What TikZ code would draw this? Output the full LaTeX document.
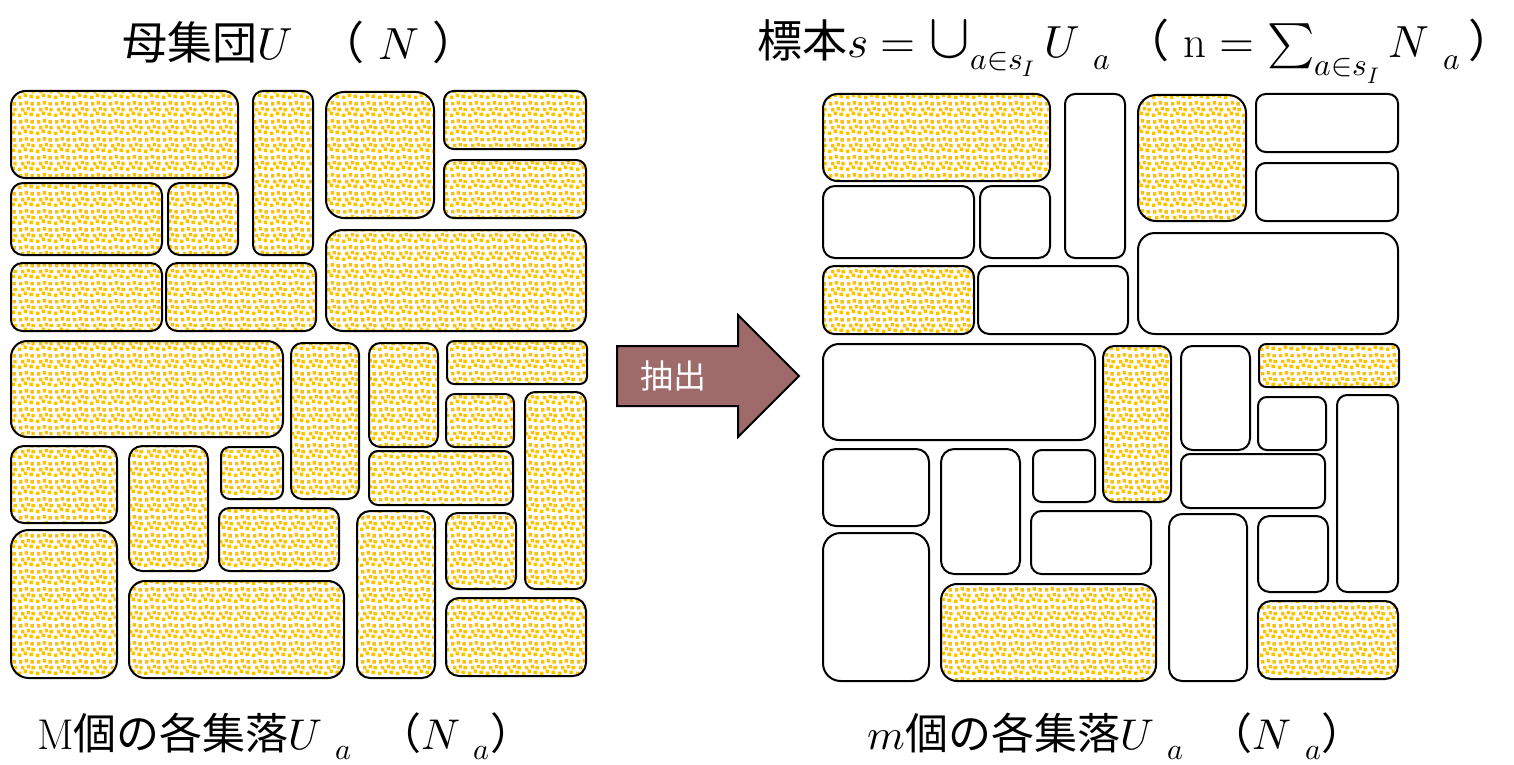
\documentclass[tikz,border=0pt]{standalone}
\usepackage{fontspec}
\usepackage{unicode-math}
\setmathfont{Latin Modern Math}
\newfontfamily\jp{Noto Sans CJK JP}
\usetikzlibrary{patterns}
\definecolor{gold}{HTML}{FFC000}
\definecolor{arrowfill}{HTML}{9E6A6A}
\pgfdeclarepatternformonly{confetti}{\pgfpointorigin}{\pgfqpoint{9pt}{9pt}}{\pgfqpoint{9pt}{9pt}}{%
  \pgfpathrectangle{\pgfqpoint{0pt}{0pt}}{\pgfqpoint{1.8pt}{1.8pt}}%
  \pgfpathrectangle{\pgfqpoint{3pt}{1pt}}{\pgfqpoint{1.8pt}{1.8pt}}%
  \pgfpathrectangle{\pgfqpoint{6pt}{0.5pt}}{\pgfqpoint{1.8pt}{1.8pt}}%
  \pgfpathrectangle{\pgfqpoint{1.5pt}{3pt}}{\pgfqpoint{1.8pt}{1.8pt}}%
  \pgfpathrectangle{\pgfqpoint{4.5pt}{3.5pt}}{\pgfqpoint{1.8pt}{1.8pt}}%
  \pgfpathrectangle{\pgfqpoint{7pt}{3pt}}{\pgfqpoint{1.8pt}{1.8pt}}%
  \pgfpathrectangle{\pgfqpoint{0.5pt}{6pt}}{\pgfqpoint{1.8pt}{1.8pt}}%
  \pgfpathrectangle{\pgfqpoint{3.5pt}{6.5pt}}{\pgfqpoint{1.8pt}{1.8pt}}%
  \pgfpathrectangle{\pgfqpoint{6.5pt}{6pt}}{\pgfqpoint{1.8pt}{1.8pt}}%
  \pgfusepath{fill}}
\newcommand\clusterbox[6]{%
  \pgfmathsetmacro\cbw{(#4-#2)/2}%
  \pgfmathsetmacro\cbh{(#5-#3)/2}%
  \pgfmathsetmacro\cbr{min(\cbw,\cbh)/6}%
  \node[#6, minimum width=\cbw pt, minimum height=\cbh pt, rounded corners=\cbr pt] (#1) at ({(#2+#4)/2},{(#3+#5)/2}) {};}
\tikzset{
  basebox/.style={draw=black, line width=1pt, inner sep=0pt, outer sep=0pt, rectangle},
  patbox/.style={basebox, pattern=confetti, pattern color=gold},
  plainbox/.style={basebox},
  bigtxt/.style={inner sep=0pt, font=\fontsize{22.5}{27}\selectfont},
  lowtxt/.style={inner sep=0pt, font=\fontsize{21.5}{26}\selectfont},
}
\begin{document}
\begin{tikzpicture}[x=0.5pt, y=-0.5pt]
\useasboundingbox (0,0) rectangle (1514,765);
% left panel
\foreach \n/\a/\b/\c/\d in {1/11/91/238/178, 2/253/91/313/255, 3/326/92/434/218, 4/444/91/586/149,
  5/444/160/586/218, 6/11/183/162/255, 7/168/183/238/255, 8/11/263/162/331, 9/166/263/316/331,
  10/326/230/586/331, 11/11/341/283/437, 12/291/343/359/499, 13/369/343/438/447, 14/447/341/587/384,
  15/446/394/514/447, 16/525/392/586/589, 17/11/446/117/523, 18/129/446/208/571, 19/221/447/283/499,
  20/369/451/513/505, 21/219/508/339/571, 22/11/530/117/678, 23/129/581/344/678, 24/357/511/435/678,
  25/446/513/516/589, 26/446/598/586/676}
  {\clusterbox{L\n}{\a}{\b}{\c}{\d}{patbox}}
% right panel
\begin{scope}[shift={(812,3)}]
\foreach \n/\a/\b/\c/\d in {1/11/91/238/178, 3/326/92/434/218, 8/11/263/162/331, 12/291/343/359/499,
  14/447/341/587/384, 23/129/581/344/678, 26/446/598/586/676}
  {\clusterbox{R\n}{\a}{\b}{\c}{\d}{patbox}}
\foreach \n/\a/\b/\c/\d in {2/253/91/313/255, 4/444/91/586/149,
  5/444/160/586/218, 6/11/183/162/255, 7/168/183/238/255, 9/166/263/316/331,
  10/326/230/586/331, 11/11/341/283/437, 13/369/343/438/447,
  15/446/394/514/447, 16/525/392/586/589, 17/11/446/117/523, 18/129/446/208/571, 19/221/447/283/499,
  20/369/451/513/505, 21/219/508/339/571, 22/11/530/117/678, 24/357/511/435/678,
  25/446/513/516/589}
  {\clusterbox{R\n}{\a}{\b}{\c}{\d}{plainbox}}
\end{scope}
% arrow
\draw[line width=1pt, fill=arrowfill, line join=miter] (617,346) -- (738,346) -- (738,315) -- (799,376) -- (738,437) -- (738,406) -- (617,406) -- cycle;
\node[text=white, inner sep=0pt, font=\jp\fontsize{16.5}{18}\selectfont] (ext) at (673,376) {抽出};
% titles
\node[bigtxt, anchor=base west] (t1) at (122,60) {{\jp 母集団}$U$\hspace{0.6em}{\jp （}\ $N$\ {\jp ）}};
\node[bigtxt, anchor=base west] (t2) at (757,58) {{\jp 標本}$s=\mathop{\scalebox{1.4}{$\cup$}}\nolimits_{a\in s_I}U\ {}_{a}$\ {\jp （}\ n $=\sum\nolimits_{a\in s_I}N\ {}_{a}$\,{\jp ）}};
\node[lowtxt, anchor=base west] (b1) at (37,749) {M{\jp 個の各集落}$U\ {}_{a}$\ \ {\jp （}$N\ {}_{a}${\jp ）}};
\node[lowtxt, anchor=base west] (b2) at (867,749) {$m${\jp 個の各集落}$U\ {}_{a}$\ \ {\jp （}$N\ {}_{a}${\jp ）}};
\end{tikzpicture}
\end{document}
